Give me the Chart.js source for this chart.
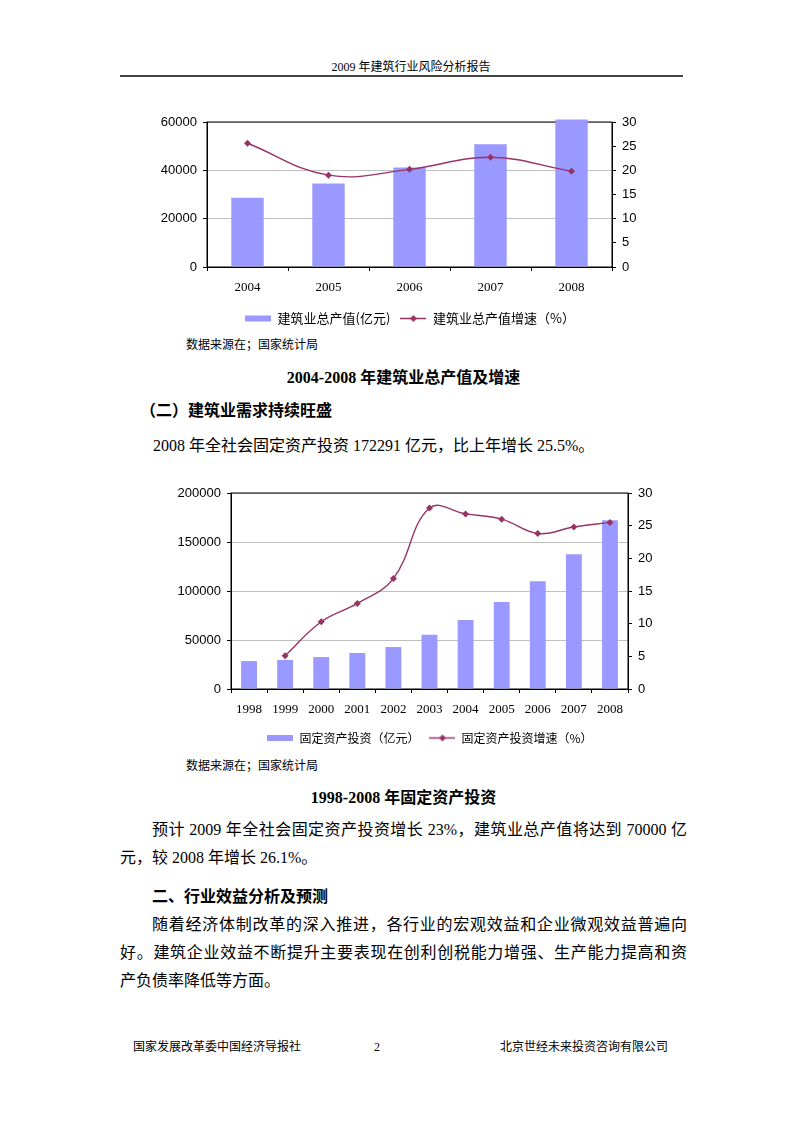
<!DOCTYPE html>
<html>
<head>
<meta charset="utf-8">
<script src="https://cdn.jsdelivr.net/npm/chart.js@4/dist/chart.umd.min.js"></script>
<style>
  body { margin: 0; background: #fff; }
  #page { position: relative; width: 800px; height: 1132px; background: #fff; overflow: hidden;
    font-family: 'Liberation Serif', 'Noto Sans CJK SC', serif; color: #000; }
  .t { position: absolute; white-space: nowrap; line-height: 20px; }
  .j { text-align: justify; text-align-last: justify; }
  .b { font-weight: bold; }
  canvas { position: absolute; }
</style>
</head>
<body>
<div id="page">
  <div class="t" style="left:135px; width:552px; top:57px; font-size:12px; text-align:center;">2009 年建筑行业风险分析报告</div>
  <div style="position:absolute; left:120px; top:75px; width:563px; height:2px; background:#444;"></div>

  <canvas id="chart1" width="520" height="230" style="left:150px; top:105px;"></canvas>

  <div class="t" style="left:186px; top:335px; font-size:12px;">数据来源在；国家统计局</div>
  <div class="t b" style="left:120px; width:567px; top:368px; font-size:16px; text-align:center;">2004-2008 年建筑业总产值及增速</div>
  <div class="t b" style="left:140px; top:401px; font-size:16px;">（二）建筑业需求持续旺盛</div>
  <div class="t" style="left:153px; top:436px; font-size:16px;">2008 年全社会固定资产投资 172291 亿元，比上年增长 25.5%。</div>

  <canvas id="chart2" width="560" height="279" style="left:150px; top:475px;"></canvas>

  <div class="t" style="left:186px; top:756px; font-size:12px;">数据来源在；国家统计局</div>
  <div class="t b" style="left:120px; width:567px; top:788px; font-size:16px; text-align:center;">1998-2008 年固定资产投资</div>

  <div class="t j" style="left:152px; width:535px; top:820px; font-size:16px;">预计 2009 年全社会固定资产投资增长 23%，建筑业总产值将达到 70000 亿</div>
  <div class="t" style="left:120px; top:848px; font-size:16px;">元，较 2008 年增长 26.1%。</div>
  <div class="t b" style="left:152px; top:887px; font-size:16px;">二、行业效益分析及预测</div>
  <div class="t j" style="left:152px; width:535px; top:915px; font-size:16px;">随着经济体制改革的深入推进，各行业的宏观效益和企业微观效益普遍向</div>
  <div class="t j" style="left:120px; width:567px; top:943px; font-size:16px;">好。建筑企业效益不断提升主要表现在创利创税能力增强、生产能力提高和资</div>
  <div class="t" style="left:120px; top:971px; font-size:16px;">产负债率降低等方面。</div>

  <div class="t" style="left:133px; top:1037px; font-size:12px;">国家发展改革委中国经济导报社</div>
  <div class="t" style="left:374px; top:1037px; font-size:12px;">2</div>
  <div class="t" style="left:500px; top:1037px; font-size:12px;">北京世经未来投资咨询有限公司</div>
</div>

<script>
// chart 1 : 2004-2008 建筑业总产值及增速
var years1 = ['2004', '2005', '2006', '2007', '2008'];
var output1 = [28700, 34600, 41200, 50800, 61000];      // 亿元
var outputGrowth1 = [25.6, 19.0, 20.2, 22.7, 19.8];    // %
var leftTicks1 = [0, 20000, 40000, 60000];
var rightTicks1 = [0, 5, 10, 15, 20, 25, 30];

// chart 2 : 1998-2008 固定资产投资
var years2 = ['1998', '1999', '2000', '2001', '2002', '2003', '2004', '2005', '2006', '2007', '2008'];
var invest2 = [28500, 29600, 32600, 36800, 42800, 55300, 70500, 88800, 109900, 137400, 172291];
var investGrowth2 = [null, 5.1, 10.3, 13.1, 16.9, 27.7, 26.8, 26.0, 23.8, 24.8, 25.5];
var leftTicks2 = [0, 50000, 100000, 150000, 200000];
var rightTicks2 = [0, 5, 10, 15, 20, 25, 30];

var barColor = '#9999ff';
var lineColor = '#993366';

// small pictures used as legend markers
function makeIcon(w, h, draw) {
  var c = document.createElement('canvas');
  c.width = w;
  c.height = h;
  draw(c.getContext('2d'), w, h);
  return c;
}
var barIcon = makeIcon(26, 8, function (ctx, w, h) {
  ctx.fillStyle = barColor;
  ctx.fillRect(0, 1, w, h - 2);
});
var lineIcon = makeIcon(26, 9, function (ctx, w, h) {
  ctx.strokeStyle = lineColor;
  ctx.lineWidth = 1.5;
  ctx.beginPath();
  ctx.moveTo(0, h / 2);
  ctx.lineTo(w, h / 2);
  ctx.stroke();
  ctx.fillStyle = lineColor;
  ctx.beginPath();
  ctx.moveTo(w / 2, h / 2 - 3.5);
  ctx.lineTo(w / 2 + 3.5, h / 2);
  ctx.lineTo(w / 2, h / 2 + 3.5);
  ctx.lineTo(w / 2 - 3.5, h / 2);
  ctx.closePath();
  ctx.fill();
});

// black frame round the plot area, drawn under the bars
var frame = {
  id: 'frame',
  beforeDatasetsDraw: function (chart) {
    var a = chart.chartArea;
    var ctx = chart.ctx;
    ctx.save();
    ctx.strokeStyle = '#000';
    ctx.lineWidth = 1;
    ctx.strokeRect(a.left, a.top, a.right - a.left, a.bottom - a.top);
    ctx.restore();
  }
};

function buildChart(id, labels, bars, line, barLabel, lineLabel, leftTicks, rightTicks, s) {
  var ctx = document.getElementById(id);
  return new Chart(ctx, {
    type: 'bar',
    data: {
      labels: labels,
      datasets: [
        {
          type: 'bar',
          label: barLabel,
          data: bars,
          yAxisID: 'y',
          backgroundColor: barColor,
          borderWidth: 0,
          barPercentage: s.barPct,
          categoryPercentage: 1,
          clip: false,
          order: 2
        },
        {
          type: 'line',
          label: lineLabel,
          data: line,
          yAxisID: 'y1',
          borderColor: lineColor,
          backgroundColor: lineColor,
          borderWidth: 1.4,
          tension: 0.4,
          pointStyle: 'rectRot',
          pointRadius: 3.5,
          pointBorderWidth: 0,
          order: 1
        }
      ]
    },
    options: {
      responsive: false,
      animation: false,
      devicePixelRatio: 1,
      layout: { padding: { top: s.top, left: 0, right: 0, bottom: 0 } },
      plugins: {
        tooltip: { enabled: false },
        legend: {
          position: 'bottom',
          labels: {
            usePointStyle: true,
            pointStyleWidth: 26,
            padding: 10,
            color: '#000',
            font: { family: "'Noto Sans CJK SC'", size: s.legendSize },
            generateLabels: function (chart) {
              return chart.data.datasets.map(function (ds, i) {
                return {
                  text: ds.label,
                  pointStyle: i === 0 ? barIcon : lineIcon,
                  fillStyle: ds.backgroundColor,
                  strokeStyle: ds.backgroundColor,
                  lineWidth: 0,
                  hidden: false,
                  fontColor: '#000',
                  datasetIndex: i
                };
              });
            }
          }
        }
      },
      scales: {
        x: {
          afterFit: function (sc) { sc.height = s.xHeight; },
          grid: { drawOnChartArea: false, tickLength: 4, color: '#000' },
          border: { color: '#000' },
          ticks: {
            color: '#000',
            padding: 9,
            maxRotation: 0,
            autoSkip: false,
            font: { family: "'Liberation Serif'", size: 13 }
          }
        },
        y: {
          position: 'left',
          min: leftTicks[0],
          max: leftTicks[leftTicks.length - 1],
          afterFit: function (sc) { sc.width = s.leftW; },
          grid: { color: '#c0c0c0', tickLength: 4, tickColor: '#000' },
          border: { color: '#000' },
          ticks: {
            stepSize: leftTicks[1] - leftTicks[0],
            color: '#000',
            padding: 6,
            font: { family: "'Liberation Sans'", size: 13 },
            callback: function (v) { return String(v); }
          }
        },
        y1: {
          position: 'right',
          min: rightTicks[0],
          max: rightTicks[rightTicks.length - 1],
          afterFit: function (sc) { sc.width = s.rightW; },
          grid: { drawOnChartArea: false, tickLength: 4, color: '#000' },
          border: { color: '#000' },
          ticks: {
            stepSize: rightTicks[1] - rightTicks[0],
            color: '#000',
            padding: 6,
            font: { family: "'Liberation Sans'", size: 13 },
            callback: function (v) { return String(v); }
          }
        }
      }
    },
    plugins: [frame]
  });
}

buildChart('chart1', years1, output1, outputGrowth1,
  '建筑业总产值(亿元)', '建筑业总产值增速（%）', leftTicks1, rightTicks1,
  { top: 17, leftW: 57, rightW: 58, xHeight: 35, barPct: 0.4, legendSize: 13 });

buildChart('chart2', years2, invest2, investGrowth2,
  '固定资产投资（亿元）', '固定资产投资增速（%）', leftTicks2, rightTicks2,
  { top: 18, leftW: 81, rightW: 82, xHeight: 33, barPct: 0.44, legendSize: 12 });
</script>
</body>
</html>
